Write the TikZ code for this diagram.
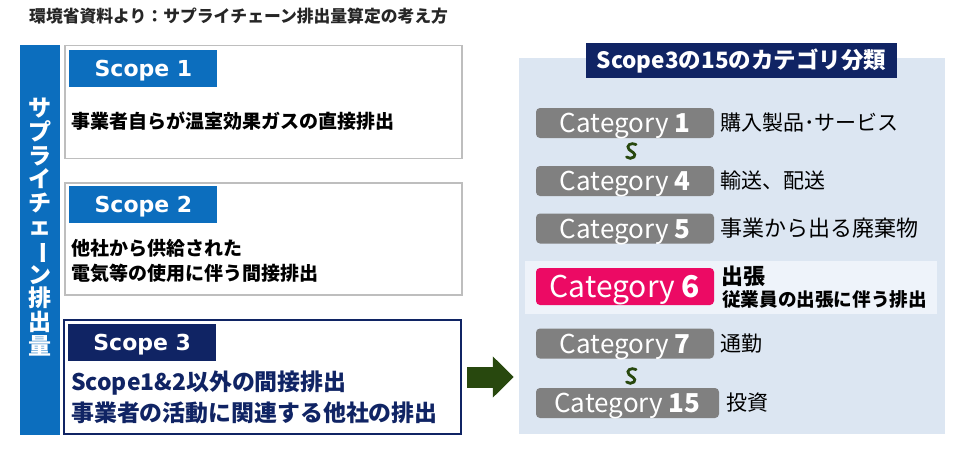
\documentclass[tikz,border=0pt]{standalone}
\usepackage{fontspec}
\usepackage{xcolor}
\setmainfont{Noto Sans CJK JP}
\newfontfamily\scfont{DejaVu Sans}
\usepackage{tikz}
\usetikzlibrary{positioning, arrows.meta}

\definecolor{scblue}{RGB}{12,110,190}
\definecolor{navy}{RGB}{16,36,100}
\definecolor{arrowgreen}{RGB}{40,72,14}
\definecolor{catgray}{RGB}{128,128,128}
\definecolor{catpink}{RGB}{236,10,100}
\definecolor{panelblue}{RGB}{220,230,242}
\definecolor{bandblue}{RGB}{238,243,250}
\definecolor{boxgray}{RGB}{190,190,190}
\newcommand{\setfs}[1]{\fontsize{#1}{#1}\selectfont}

\begin{document}
\begin{tikzpicture}[
        x=1pt, y=-1pt,
        >={Triangle[length=21pt, width=40pt]},
        scopebox/.style={draw=boxgray, line width=1.5pt, minimum width=397, minimum height=113},
        scopetag/.style={fill=scblue, text=white, minimum width=148, minimum height=37,
          inner sep=0, text height=16, text depth=0, font=\scfont\bfseries\setfs{22}},
        boxtext/.style={anchor=west, inner sep=0, align=left, font=\bfseries\fontsize{19}{25}\selectfont},
        catbox/.style={rounded corners=4pt, fill=catgray, text=white, minimum width=178,
          minimum height=30, inner sep=0, text height=19, text depth=0, font=\setfs{26}},
        catlabel/.style={inner sep=0, font=\setfs{21}},
        squiggle/.style={draw=arrowgreen, line width=2.8pt, line cap=round},
      ]
      \useasboundingbox (0,0) rectangle (960,450);

      \node[anchor=west, inner sep=0, text=black!85, font=\bfseries\setfs{16.8}] (title) at (29,16)
        {環境省資料より：サプライチェーン排出量算定の考え方};

      % left side: scope 1-3
      \node[fill=scblue, minimum width=40, minimum height=390, inner sep=0] (bar) at (40,240) {};
      \node[text=white, align=center, inner sep=0, font=\bfseries\fontsize{23}{23.6}\selectfont] (bartext) at (40,227)
        {サ\\プ\\ラ\\イ\\チ\\ェ\\\rotatebox[origin=c]{-90}{ー}\\ン\\排\\出\\量};

      \node[scopebox] (box1) at (263.5,102) {};
      \node[scopetag, below right=5pt and 5pt of box1.north west, anchor=north west] (tag1) {Scope 1};
      \node[boxtext, font=\bfseries\setfs{19}] (text1) at (71,121) {事業者自らが温室効果ガスの直接排出};

      \node[scopebox, minimum height=112] (box2) at (263.5,239) {};
      \node[scopetag, below right=4pt and 5pt of box2.north west, anchor=north west] (tag2) {Scope 2};
      \node[boxtext] (text2) at (71,260.5) {他社から供給された\\電気等の使用に伴う間接排出};

      \node[scopebox, draw=navy, line width=2pt, minimum height=114] (box3) at (262.5,377) {};
      \node[scopetag, fill=navy, below right=5pt and 5pt of box3.north west, anchor=north west] (tag3) {Scope 3};
      \node[boxtext, text=navy, font=\bfseries\fontsize{22.9}{31}\selectfont] (text3) at (71,397.5)
        {Scope1\&2以外の間接排出\\事業者の活動に関連する他社の排出};

      % right side: categories
      \node[fill=panelblue, minimum width=426, minimum height=376, inner sep=0] (panel) at (732,246) {};
      \node[fill=navy, text=white, minimum width=311, minimum height=35, inner sep=0,
        text height=16.5, text depth=0, font=\bfseries\setfs{22.5}] (ptitle) at (741.5,60.5) {Scope3の15のカテゴリ分類};
      \node[fill=bandblue, minimum width=412, minimum height=53, inner sep=0] (band) at (731,287.5) {};

      \node[catbox] (cat1) at (625,123) {Category \textbf{1}};
      \node[catbox] (cat4) at (625,181) {Category \textbf{4}};
      \node[catbox] (cat5) at (625,228.5) {Category \textbf{5}};
      \node[catbox, fill=catpink, minimum height=37, text height=22, font=\setfs{30}] (cat6) at (625,286.5) {Category \textbf{6}};
      \node[catbox] (cat7) at (625,343.5) {Category \textbf{7}};
      \node[catbox, minimum width=183] (cat15) at (627.5,403) {Category \textbf{15}};

      \node[catlabel, right=6pt of cat1] (lab1) {購入製品･サービス};
      \node[catlabel, right=6pt of cat4] (lab4) {輸送、配送};
      \node[catlabel, right=6pt of cat5, font=\setfs{22}] (lab5) {事業から出る廃棄物};
      \node[catlabel, anchor=west, font=\bfseries\setfs{22}] (lab6a) at (721,276) {出張};
      \node[catlabel, anchor=west, font=\bfseries\setfs{18.6}] (lab6b) at (722,299) {従業員の出張に伴う排出};
      \node[catlabel, right=6pt of cat7] (lab7) {通勤};
      \node[catlabel, right=7pt of cat15] (lab15) {投資};

      \draw[squiggle] (636,144.5) .. controls (631,142) and (625.5,145.5) .. (629,149.5)
        .. controls (631,151.5) and (637,153.5) .. (634,157) .. controls (632,159) and (628.5,158.5) .. (626.5,157);
      \draw[squiggle] (636,369.5) .. controls (631,367) and (625.5,370.5) .. (629,374.5)
        .. controls (631,376.5) and (637,378.5) .. (634,382) .. controls (632,384) and (628.5,383.5) .. (626.5,382);

      \draw[->, arrowgreen, line width=21pt, shorten <=5pt, shorten >=5pt]
        (box3.east) -- (box3.east -| panel.west);

    \end{tikzpicture}
\end{document}
